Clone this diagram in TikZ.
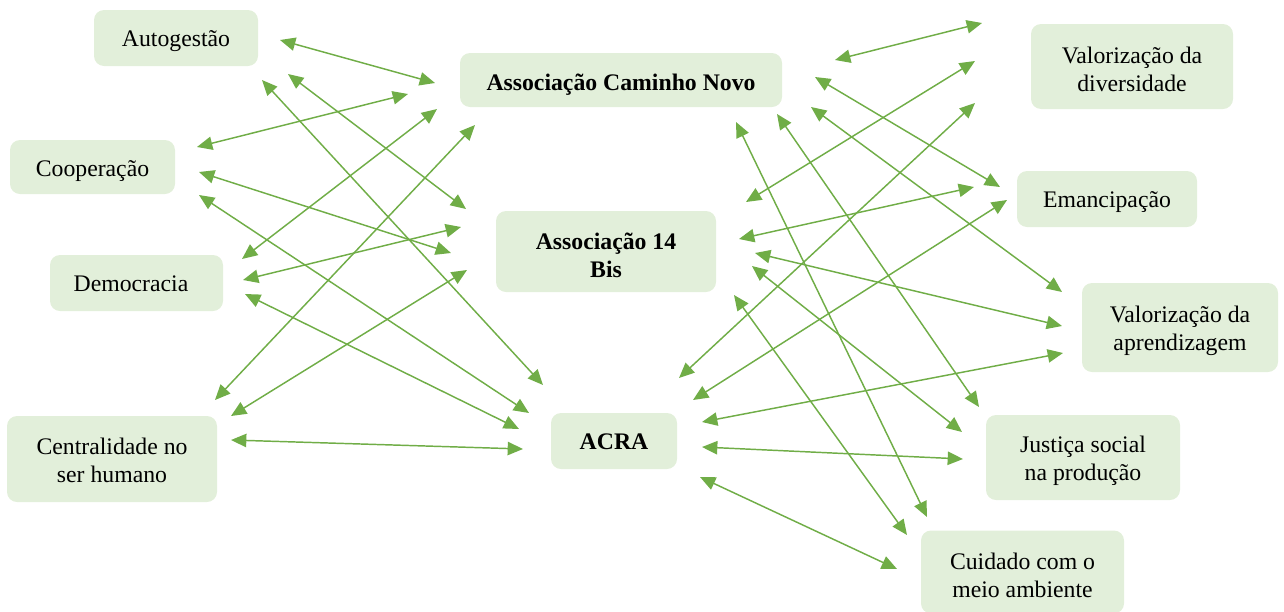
\documentclass[tikz,border=0pt]{standalone}
\usepackage{fontspec}
\setmainfont{Liberation Serif}
\usetikzlibrary{arrows.meta}
\definecolor{boxgreen}{HTML}{E2EFDA}
\definecolor{arrowgreen}{HTML}{70AD47}
\begin{document}
\begin{tikzpicture}[x=0.75pt,y=-0.75pt,
  box/.style={fill=boxgreen, rounded corners=7.5pt, inner sep=0pt},
  txt/.style={inner sep=0pt, align=center, font=\fontsize{17.8}{21}\selectfont},
  boldtxt/.style={txt, font=\fontsize{17.8}{21}\selectfont\bfseries},
  link/.style={draw=arrowgreen, line width=1.1pt,
    {Triangle[length=11.5pt,width=10pt]}-{Triangle[length=11.5pt,width=10pt]}}]
\useasboundingbox (0,0) rectangle (1284,611);
\clip (0,0) rectangle (1284,611);
% value boxes, left
\node[box, minimum width=123pt, minimum height=42pt] (aut) at (176,38) {};
\node[txt] (aut-t) at (176,41) {Autogestão};
\node[box, minimum width=123.75pt, minimum height=40.5pt] (coop) at (92.5,167) {};
\node[txt] (coop-t) at (92.5,171) {Cooperação};
\node[box, minimum width=129.75pt, minimum height=42pt] (dem) at (136.5,283) {};
\node[txt] (dem-t) at (131,284) {Democracia};
\node[box, minimum width=157.5pt, minimum height=64.5pt] (cent) at (112,459) {};
\node[txt] (cent-t) at (112,460) {Centralidade no\\ser humano};
% associations
\node[box, minimum width=241.5pt, minimum height=40.5pt] (cn) at (621,80) {};
\node[boldtxt] (cn-t) at (621,85) {Associação Caminho Novo};
\node[box, minimum width=165pt, minimum height=60.75pt] (bis) at (606,251.5) {};
\node[boldtxt] (bis-t) at (606,255) {Associação 14\\Bis};
\node[box, minimum width=94.5pt, minimum height=42pt] (acra) at (614,441) {};
\node[boldtxt] (acra-t) at (614,442) {ACRA};
% value boxes, right
\node[box, minimum width=151.5pt, minimum height=63.75pt] (div) at (1132,66.5) {};
\node[txt] (div-t) at (1132,69.5) {Valorização da\\diversidade};
\node[box, minimum width=135pt, minimum height=42pt] (eman) at (1107,199) {};
\node[txt] (eman-t) at (1107,202) {Emancipação};
\node[box, minimum width=147pt, minimum height=66.75pt] (apr) at (1180,327.5) {};
\node[txt] (apr-t) at (1180,331) {Valorização da\\aprendizagem};
\node[box, minimum width=145.5pt, minimum height=63.75pt] (just) at (1083,457.5) {};
\node[txt] (just-t) at (1083,460.5) {Justiça social\\na produção};
\node[box, minimum width=152.25pt, minimum height=62.25pt] (cuid) at (1022.5,572) {};
\node[txt] (cuid-t) at (1022.5,575) {Cuidado com o\\meio ambiente};
% connectors
\foreach \a/\b/\p/\q in {
  aut/cn/{280,40}/{435,83},
  coop/cn/{197,147}/{408,94},
  dem/cn/{242,259}/{437,109},
  cent/cn/{215,400}/{475,125},
  aut/bis/{288,74}/{466,209},
  coop/bis/{199,172}/{451,253},
  dem/bis/{243,280}/{461,227},
  cent/bis/{231,416}/{467,270},
  aut/acra/{262,80}/{543,385},
  coop/acra/{199,195}/{529,413},
  dem/acra/{245,294}/{519,429},
  cent/acra/{231,440}/{523,449},
  div/cn/{982,23}/{835,60},
  eman/cn/{1000,187}/{815,77},
  apr/cn/{1062,292}/{811,107},
  just/cn/{979,407}/{777,114},
  cuid/cn/{927,517}/{736,122},
  div/bis/{975,61}/{746,202},
  eman/bis/{974,187}/{739,239},
  apr/bis/{1062,326}/{755,253},
  just/bis/{962,432}/{752,266},
  cuid/bis/{907,535}/{734,295},
  div/acra/{975,103}/{679,378},
  eman/acra/{1007,200}/{693,400},
  apr/acra/{1063,353}/{702,422},
  just/acra/{963,459}/{702,447},
  cuid/acra/{897,569}/{700,477}}
{
  \coordinate (\a-\b-s) at (\p);
  \coordinate (\a-\b-e) at (\q);
  \draw[link] (\a-\b-s) -- (\a-\b-e);
}
\end{tikzpicture}
\end{document}
